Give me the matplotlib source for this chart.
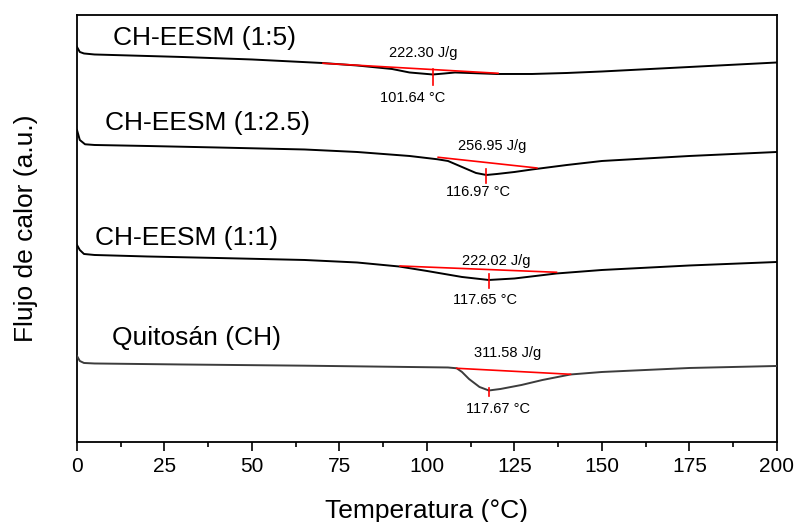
import numpy as np
import matplotlib.pyplot as plt
from matplotlib.ticker import MultipleLocator

plt.rcParams['font.family'] = ['Liberation Sans', 'DejaVu Sans']

# DSC curves, heat flow in arbitrary units (curves stacked with offsets)
t_15 = [0, 0.8, 2, 5, 15, 30, 50, 70, 80, 90, 95, 101.64, 105, 108, 112, 120, 130, 140, 150, 175, 200]
f_15 = [395, 390, 388.5, 387.5, 386.5, 385, 382.5, 379, 376.5, 373, 369.5, 367.5, 368.5, 369.5, 369,
        368, 368, 369, 370.5, 375, 379.5]

t_125 = [0, 0.8, 2.3, 5, 20, 40, 65, 80, 95, 103, 106, 110, 114, 116.97, 120, 125, 130, 140, 150, 175, 200]
f_125 = [312, 302, 297.7, 297, 296, 294.5, 292.5, 290, 286, 282.7, 281, 275, 269, 267, 268, 270,
         272.5, 277, 281, 286, 290]

t_11 = [0, 0.8, 2, 5, 20, 40, 65, 80, 92, 100, 110, 117.65, 125, 137, 150, 175, 200]
f_11 = [197, 192, 188, 187, 185.5, 184, 182, 179.5, 175.5, 171, 165, 162, 163.5, 168.5, 172, 176.5, 180]

t_ch = [0, 0.8, 2, 5, 30, 65, 90, 106, 108.5, 110, 112, 115, 117.67, 121, 127, 133, 141, 150, 175, 200]
f_ch = [86, 81, 79, 78.5, 77.5, 76.3, 75.2, 74.5, 73.7, 70, 63, 55, 51.5, 53, 57, 62, 67.5, 70, 74, 76]

names = ['CH-EESM (1:5)', 'CH-EESM (1:2.5)', 'CH-EESM (1:1)', 'Quitosán (CH)']
name_pos = [(10.3, 397), (8.0, 312), (5.1, 197), (9.9, 97)]

# integration baselines (T start, y start, T end, y end)
baselines = [(70.3, 378.7, 120.3, 368.7),
             (103.2, 284.7, 131.4, 274.0),
             (92.3, 176.0, 137.0, 169.7),
             (108.5, 73.7, 141.0, 67.7)]
enthalpy = ['222.30 J/g', '256.95 J/g', '222.02 J/g', '311.58 J/g']
enthalpy_pos = [(98.9, 389), (118.5, 296), (119.9, 181.3), (123.1, 88.7)]

peak_t = [101.64, 116.97, 117.65, 117.67]
peak_span = [(357, 372.5), (259.3, 272.7), (153.7, 168), (46, 54.3)]
peak_pos = [(96.0, 344.3), (114.6, 250.3), (116.6, 142), (120.3, 33)]

fig = plt.figure(figsize=(7.97, 5.22), dpi=100)
ax = fig.add_axes([0.0966, 0.1533, 0.8783, 0.818])

curves = [(t_15, f_15, 'black'), (t_125, f_125, 'black'), (t_11, f_11, 'black'), (t_ch, f_ch, '#3c3c3c')]
for (t, f, c) in curves:
    ax.plot(t, f, color=c, lw=1.4, solid_joinstyle='round', zorder=3)

for i in range(4):
    x0, y0, x1, y1 = baselines[i]
    ax.plot([x0, x1], [y0, y1], color='red', lw=1.2, zorder=4)
    ax.plot([peak_t[i], peak_t[i]], peak_span[i], color='red', lw=1.2, zorder=4)
    ax.text(enthalpy_pos[i][0], enthalpy_pos[i][1], enthalpy[i], fontsize=10.5,
            ha='center', va='center')
    ax.text(peak_pos[i][0], peak_pos[i][1], f'{peak_t[i]:.2f} °C', fontsize=10.5,
            ha='center', va='center')
    ax.text(name_pos[i][0], name_pos[i][1], names[i], fontsize=19, ha='left', va='baseline')

ax.set_xlim(0, 200)
ax.set_ylim(0, 427)
ax.xaxis.set_major_locator(MultipleLocator(25))
ax.xaxis.set_minor_locator(MultipleLocator(12.5))
ax.tick_params(axis='x', which='major', direction='out', length=6.5, width=1.2, labelsize=15, pad=4)
ax.tick_params(axis='x', which='minor', direction='out', length=3.3, width=1.2)
ax.set_yticks([])
for s in ax.spines.values():
    s.set_linewidth(1.3)

ax.set_xlabel('Temperatura (°C)', fontsize=19, labelpad=17)
ax.set_ylabel('Flujo de calor (a.u.)', fontsize=19, labelpad=28)

fig.savefig('out.png', dpi=100)
